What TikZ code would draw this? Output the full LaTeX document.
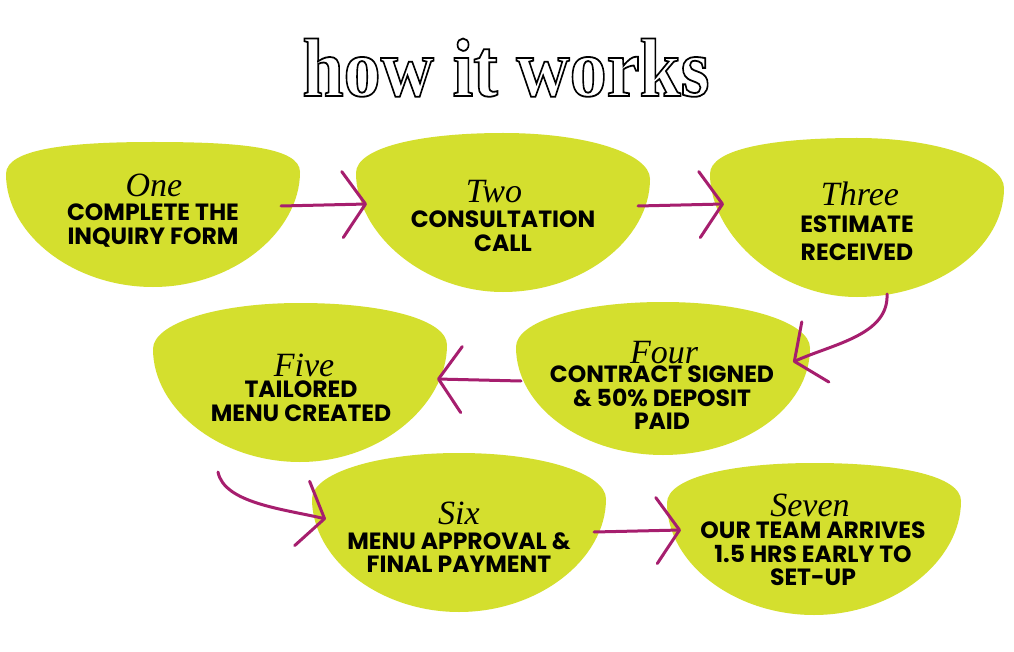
\documentclass[tikz,border=0pt]{standalone}
\usepackage{fontspec}
\usetikzlibrary{arrows.meta}
\newfontfamily\titlefont{Liberation Serif}
\newfontfamily\numfont{Liberation Serif}
\newfontfamily\bodyfont{Poppins}
\definecolor{bowlgreen}{HTML}{D4DF2E}
\definecolor{arrowpink}{HTML}{A61E6E}
\newcommand\outlineon{\special{pdf:literal direct 1 Tr 1.6 w}}
\newcommand\outlineoff{\special{pdf:literal direct 0 Tr}}
\tikzset{
  bowlshape/.style={fill=bowlgreen},
  flow/.style={draw=arrowpink, line width=3pt, line cap=round,
    -{Straight Barb[length=23pt,width=66pt,round]}},
  numtxt/.style={font=\numfont\itshape\fontsize{34}{34}\selectfont, inner sep=0pt, anchor=base},
  bodytxt/.style={font=\bodyfont\bfseries\fontsize{23.5}{23.5}\selectfont, align=center, inner sep=0pt, anchor=north},
  titletxt/.style={font=\titlefont\bfseries\fontsize{74}{74}\selectfont, inner sep=0pt, anchor=base, yscale=1.12, transform shape}
}
% cx, top, height, left-y offset, right-y offset
\newcommand\bowlpath[5]{%
  \fill[bowlshape] (#1,#2) .. controls (#1-85,#2) and (#1-147,#2+#4-25) .. (#1-147,#2+#4)
    .. controls (#1-147,#2+#4+60) and (#1-80,#2+#3) .. (#1,#2+#3)
    .. controls (#1+80,#2+#3) and (#1+147,#2+#5+60) .. (#1+147,#2+#5)
    .. controls (#1+147,#2+#5-25) and (#1+85,#2) .. cycle;}
\begin{document}
\begin{tikzpicture}[x=1pt,y=-1pt]
\useasboundingbox (0,0) rectangle (1014,652);
\fill[white] (0,0) rectangle (1014,652);

% title
\node[titletxt] (title) at (506,96) {\outlineon how it works\outlineoff};

% bowls
\bowlpath{153}{142}{145}{32}{30}
\bowlpath{503}{133}{159}{40}{46}
\bowlpath{857}{138}{159}{36}{50}
\bowlpath{663}{302}{153}{45}{46}
\bowlpath{300}{303}{159}{46}{42}
\bowlpath{459}{453}{159}{46}{46}
\bowlpath{814}{463}{152}{40}{38}

% connector end points
\coordinate (a1s) at (281,206); \coordinate (a1e) at (367,204);
\coordinate (a2s) at (638,206); \coordinate (a2e) at (724,204);
\coordinate (a3s) at (887,294); \coordinate (a3e) at (793,362);
\coordinate (a4s) at (521,381); \coordinate (a4e) at (437,379);
\coordinate (a5s) at (218,472); \coordinate (a5e) at (326,519);
\coordinate (a6s) at (594,532); \coordinate (a6e) at (681,530);

\draw[flow] (a1s) -- (a1e);
\draw[flow] (a2s) -- (a2e);
\draw[flow] (a3s) .. controls (889,335) and (833,344) .. (a3e);
\draw[flow] (a4s) -- (a4e);
\draw[flow] (a5s) .. controls (224,503) and (283,509) .. (a5e);
\draw[flow] (a6s) -- (a6e);

% texts
\node[numtxt] (n1) at (154,197) {One};
\node[bodytxt] (t1) at (153,204) {COMPLETE THE\\INQUIRY FORM};

\node[numtxt] (n2) at (494,203) {Two};
\node[bodytxt] (t2) at (503,211) {CONSULTATION\\CALL};

\node[numtxt] (n3) at (860,206) {Three};
\node[bodytxt] (t3) at (857,216) {ESTIMATE\\[4pt]RECEIVED};

\node[numtxt] (n4) at (664,363) {Four};
\node[bodytxt] (t4) at (662,366) {CONTRACT SIGNED\\\& 50\% DEPOSIT\\PAID};

\node[numtxt] (n5) at (304,376) {Five};
\node[bodytxt] (t5) at (301,381) {TAILORED\\MENU CREATED};

\node[numtxt] (n6) at (459,524) {Six};
\node[bodytxt] (t6) at (459,532) {MENU APPROVAL \&\\FINAL PAYMENT};

\node[numtxt] (n7) at (810,516) {Seven};
\node[bodytxt] (t7) at (813,522) {OUR TEAM ARRIVES\\1.5 HRS EARLY TO\\SET-UP};
\end{tikzpicture}
\end{document}
